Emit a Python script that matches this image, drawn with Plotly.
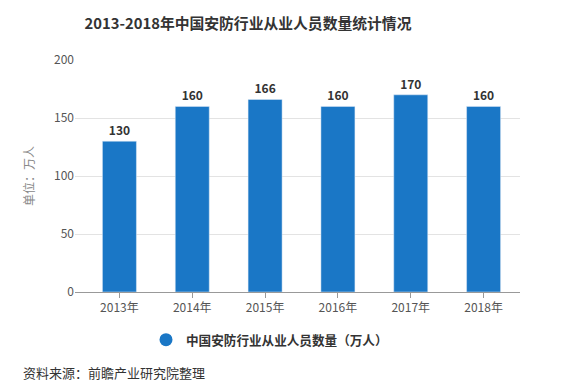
import plotly.graph_objects as go

years = ["2013年", "2014年", "2015年", "2016年", "2017年", "2018年"]
values = [130, 160, 166, 160, 170, 160]
y_ticks = [0, 50, 100, 150, 200]

FONT = "Noto Sans CJK SC, Microsoft YaHei, sans-serif"
BAR = "#1a77c6"

idx = list(range(len(years)))

fig = go.Figure()
fig.add_trace(go.Bar(
    x=idx, y=values, width=0.467, marker_color=BAR, showlegend=False,
    text=[str(v) for v in values], textposition="outside",
    textfont=dict(family=FONT, size=12, color="#333333", weight="bold"),
    cliponaxis=False, hoverinfo="skip",
))
fig.add_trace(go.Scatter(
    x=[None], y=[None], mode="markers", name="中国安防行业从业人员数量（万人）",
    marker=dict(symbol="circle", size=13, color=BAR), showlegend=True,
))

fig.update_layout(
    width=577, height=390,
    margin=dict(l=75, r=57, t=60, b=98, autoexpand=False),
    paper_bgcolor="white", plot_bgcolor="white",
    font=dict(family=FONT, size=12, color="#666666"),
    title=dict(text="<b>2013-2018年中国安防行业从业人员数量统计情况</b>",
               x=248 / 577, xanchor="center", y=1 - 24 / 390, yanchor="middle",
               font=dict(family=FONT, size=14.8, color="#333333")),
    legend=dict(orientation="h", x=(146 - 75) / 445, xanchor="left",
                y=-(325 - 292) / 232, yanchor="top",
                font=dict(family=FONT, size=12.6, color="#333333", weight="bold"),
                bgcolor="rgba(0,0,0,0)"),
    xaxis=dict(
        range=[-0.61, 5.5], tickmode="array", tickvals=idx, ticktext=years,
        showgrid=False, zeroline=False, showline=True, linecolor="#999999", linewidth=1,
        ticks="outside", ticklen=5, tickcolor="#999999",
        tickfont=dict(family=FONT, size=12, color="#555555"),
    ),
    yaxis=dict(
        range=[0, 200], tickvals=y_ticks, showgrid=True, gridcolor="#e3e3e3",
        zeroline=False, showline=False, ticks="",
        tickfont=dict(family=FONT, size=12, color="#555555"),
        title=dict(text="单位：万人", font=dict(family=FONT, size=12, color="#888888"), standoff=16),
    ),
    annotations=[dict(
        text="资料来源：前瞻产业研究院整理", xref="paper", yref="paper",
        x=-54 / 445, xanchor="left", y=-(372 - 292) / 232, yanchor="middle",
        showarrow=False, font=dict(family=FONT, size=13, color="#333333"),
    )],
)

fig.write_html("out.html", config={"displayModeBar": False},
               post_script="document.body.style.margin='0';")
